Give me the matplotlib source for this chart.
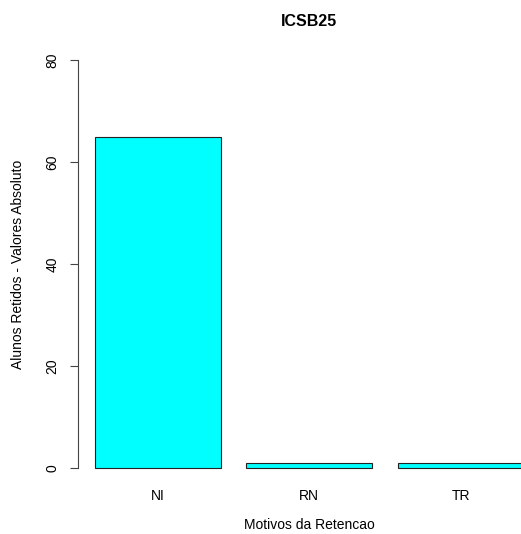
import matplotlib.pyplot as plt

plt.rcParams["font.family"] = ["Liberation Sans", "DejaVu Sans"]

motivos = ["NI", "RN", "TR"]
alunos = [65, 1, 1]
y_ticks = [0, 20, 40, 60, 80]

W, H = 521, 534
fig = plt.figure(figsize=(W / 100, H / 100), dpi=100)

# plot region in pixels (R-style barplot, right side cropped by the image)
left, right, top, bottom = 78, 521, 44, 484
ax = fig.add_axes([left / W, (H - bottom) / H, (right - left) / W, (bottom - top) / H])

xpos = [0.7 + 1.2 * i for i in range(len(motivos))]
ax.bar(xpos, alunos, width=1.0, color="#00FFFF", edgecolor="#222222", linewidth=0.8)

ax.set_xlim(0.064, 3.58)
ax.set_ylim(-3.2, 83.2)

for s in ["top", "right", "bottom"]:
    ax.spines[s].set_visible(False)
ax.spines["left"].set_bounds(0, 80)
ax.spines["left"].set_color("#444444")
ax.spines["left"].set_linewidth(0.8)

ax.set_yticks(y_ticks)
ax.set_yticklabels([str(v) for v in y_ticks], rotation=90, va="center", fontsize=10)
ax.tick_params(axis="y", length=6, width=0.8, color="#444444", pad=7.5)

ax.set_xticks(xpos)
ax.set_xticklabels(motivos, fontsize=10)
ax.tick_params(axis="x", length=0, pad=3.5)

fig.text(18 / W, 1 - 264 / H, "Alunos Retidos - Valores Absoluto", rotation=90,
         ha="center", va="center", fontsize=10)
fig.text(309 / W, 1 - 525 / H, "Motivos da Retencao", ha="center", va="center", fontsize=10)
fig.text(309 / W, 1 - 22 / H, "ICSB25", ha="center", va="center", fontsize=11.5, fontweight="bold")

fig.savefig("out.png", dpi=100)
